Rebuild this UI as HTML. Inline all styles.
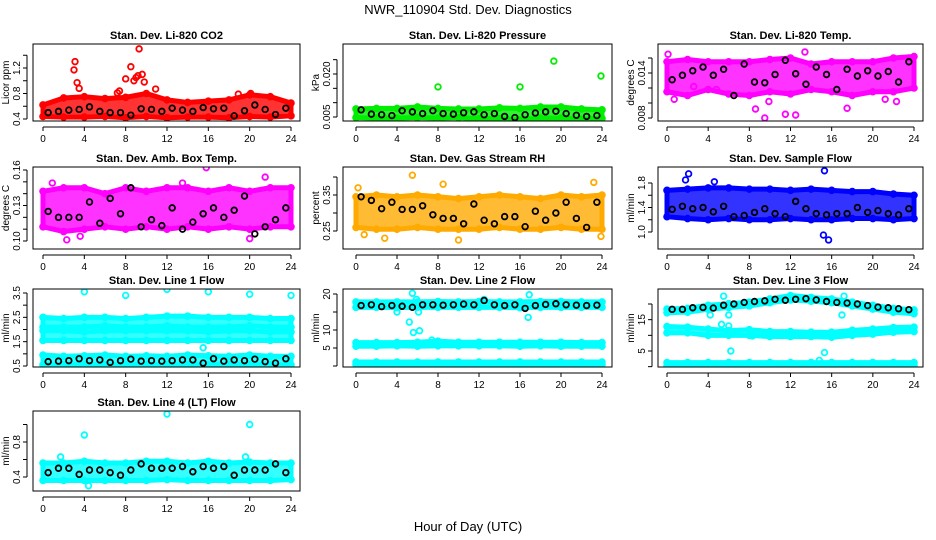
<!DOCTYPE html>
<html><head><meta charset="utf-8"><style>
body{margin:0;background:#fff}
svg{display:block;font-family:"Liberation Sans",sans-serif}
</style></head><body>
<svg id="c" width="936" height="540" viewBox="0 0 936 540">
<text x="468" y="14" text-anchor="middle" font-size="13">NWR_110904  Std. Dev. Diagnostics</text>
<text x="468" y="531" text-anchor="middle" font-size="13">Hour of Day (UTC)</text>
</svg>
<script>
const bandHours=[0,2,4,6,8,10,12,14,16,18,20,22,24];
const blackHours=[0.5,1.5,2.5,3.5,4.5,5.5,6.5,7.5,8.5,9.5,10.5,11.5,12.5,13.5,14.5,15.5,16.5,17.5,18.5,19.5,20.5,21.5,22.5,23.5];
const xTicks=[0,4,8,12,16,20,24];

const co2Lo=[0.44,0.43,0.43,0.44,0.42,0.44,0.42,0.43,0.43,0.42,0.44,0.43,0.45];
const co2Hi=[0.62,0.73,0.75,0.72,0.74,0.8,0.7,0.66,0.68,0.7,0.78,0.75,0.65];
const co2Black=[0.5,0.52,0.54,0.55,0.59,0.52,0.5,0.5,0.46,0.56,0.55,0.52,0.57,0.54,0.52,0.58,0.56,0.57,0.45,0.53,0.62,0.55,0.47,0.57];
const co2Out=[[3.0,1.17],[3.1,1.3],[3.3,0.97],[3.5,0.88],[7.2,0.81],[7.4,0.84],[8.0,1.03],[8.5,1.22],[8.8,1.0],[9.0,1.05],[9.2,1.08],[9.3,1.5],[9.6,1.1],[9.8,0.98],[10.9,0.87],[20.1,0.8],[18.9,0.79]];

const presLo=[0.0048,0.0046,0.0046,0.0048,0.0046,0.0048,0.0044,0.0044,0.0040,0.0046,0.0046,0.0042,0.0045];
const presHi=[0.0078,0.008,0.008,0.0085,0.008,0.0078,0.0078,0.0082,0.008,0.0085,0.0085,0.0078,0.0075];
const presBlack=[0.0075,0.006,0.0058,0.0055,0.0072,0.0068,0.0062,0.0072,0.0062,0.006,0.0065,0.0068,0.0058,0.0062,0.0052,0.0048,0.0058,0.0064,0.0068,0.007,0.0062,0.0056,0.0052,0.0055];
const presOut=[[8,0.0155],[16,0.0155],[19.3,0.0245],[23.9,0.0193]];

const tempLo=[0.0115,0.011,0.0118,0.0112,0.011,0.0115,0.0112,0.0118,0.0115,0.011,0.0115,0.0115,0.012];
const tempHi=[0.0155,0.0158,0.0155,0.0155,0.0155,0.0158,0.016,0.0152,0.0155,0.0155,0.0155,0.016,0.0162];
const tempBlack=[0.0131,0.0137,0.0143,0.0148,0.0137,0.0145,0.011,0.0152,0.0128,0.0127,0.0138,0.0157,0.0139,0.0125,0.0148,0.0138,0.0118,0.0145,0.0136,0.0143,0.0136,0.0142,0.0128,0.0155];
const tempOut=[[0.1,0.0165],[0.7,0.0105],[2.6,0.0122],[4.8,0.0118],[8.6,0.0092],[9.5,0.008],[9.9,0.0102],[11.5,0.0085],[12.5,0.0084],[13.4,0.0168],[17.5,0.0093],[21.2,0.0105],[22.3,0.0102],[23.5,0.016]];

const ambLo=[0.112,0.108,0.11,0.112,0.11,0.112,0.11,0.112,0.11,0.112,0.11,0.112,0.112];
const ambHi=[0.142,0.145,0.145,0.14,0.145,0.142,0.145,0.145,0.142,0.145,0.142,0.145,0.145];
const ambBlack=[0.125,0.12,0.12,0.12,0.133,0.115,0.136,0.123,0.145,0.112,0.118,0.113,0.128,0.11,0.116,0.123,0.128,0.12,0.126,0.138,0.106,0.112,0.118,0.128];
const ambOut=[[2.3,0.101],[15.8,0.162],[21.5,0.154],[13.5,0.149],[0.9,0.149],[20,0.102],[3.6,0.104]];

const rhLo=[0.26,0.255,0.255,0.26,0.255,0.255,0.255,0.26,0.255,0.255,0.26,0.255,0.255];
const rhHi=[0.345,0.35,0.345,0.35,0.345,0.34,0.345,0.35,0.345,0.34,0.35,0.345,0.35];
const rhBlack=[0.345,0.335,0.312,0.33,0.31,0.31,0.32,0.295,0.285,0.285,0.27,0.325,0.28,0.27,0.29,0.29,0.262,0.305,0.28,0.3,0.33,0.285,0.26,0.33];
const rhOut=[[5.5,0.405],[2.8,0.23],[10,0.225],[23.2,0.385],[0.2,0.37],[8.5,0.38],[0.8,0.24],[23.9,0.235]];

const flowLo=[1.25,1.22,1.2,1.22,1.2,1.2,1.22,1.2,1.2,1.22,1.22,1.2,1.22];
const flowHi=[1.68,1.7,1.72,1.72,1.7,1.7,1.68,1.7,1.68,1.66,1.66,1.62,1.6];
const flowBlack=[1.37,1.42,1.38,1.4,1.33,1.42,1.25,1.27,1.32,1.38,1.3,1.25,1.5,1.38,1.3,1.28,1.3,1.3,1.4,1.32,1.35,1.3,1.28,1.38];
const flowOut=[[2.1,1.95],[15.3,2.0],[15.2,0.95],[15.7,0.87],[1.8,1.85],[4.6,1.82]];

const l1Lo=[[0.55,0.55,0.55,0.55,0.55,0.55,0.55,0.55,0.55,0.55,0.55,0.55,0.55],[1.55,1.55,1.55,1.55,1.55,1.55,1.55,1.55,1.55,1.55,1.55,1.55,1.55],[2.1,2.1,2.1,2.15,2.1,2.1,2.15,2.1,2.1,2.1,2.15,2.1,2.1]];
const l1Hi=[[0.95,0.9,0.92,0.95,0.9,0.92,0.9,0.95,0.92,0.9,0.95,0.9,0.9],[1.95,1.95,1.9,1.95,1.95,1.95,1.95,1.95,1.9,1.95,1.95,1.9,1.9],[2.5,2.45,2.5,2.5,2.45,2.5,2.55,2.55,2.5,2.5,2.5,2.45,2.45]];
const l1Black=[0.68,0.7,0.72,0.8,0.72,0.75,0.65,0.72,0.78,0.7,0.72,0.7,0.72,0.75,0.75,0.62,0.8,0.7,0.75,0.72,0.78,0.68,0.62,0.8];
const l1Out=[[4,3.55],[8,3.4],[12,3.65],[16,3.55],[20,3.45],[24,3.4],[15.5,1.25]];

const l2Lo=[[16.3,16.3,16.2,16.3,16.3,16.3,16.3,16.3,16.2,16.3,16.3,16.3,16.3],[5.5,5.5,5.6,5.5,5.6,5.6,5.6,5.6,5.5,5.6,5.5,5.5,5.5],[0.4,0.4,0.4,0.4,0.4,0.4,0.4,0.4,0.4,0.4,0.4,0.4,0.4]];
const l2Hi=[[17.8,17.8,17.8,17.8,17.9,17.8,17.9,17.8,17.8,17.9,17.9,17.8,17.8],[6.5,6.5,6.5,6.6,6.9,6.6,6.6,6.6,6.6,6.6,6.6,6.5,6.5],[1.1,1.1,1.1,1.1,1.1,1.1,1.1,1.1,1.1,1.1,1.1,1.1,1.1]];
const l2Black=[16.8,17,16.5,16.8,16.6,16.3,17,17,16.9,17,17.2,17,18.2,17,16.8,17,16,16.8,17.1,17.3,17,16.9,16.8,16.9];
const l2Out=[[5.2,12.2],[5.6,9.3],[6.2,9.8],[5.5,20.2],[5.9,18.5],[4,15],[16.8,13.5],[16.9,19.8],[6.1,15],[12.5,18.5],[7.4,7.2],[6.2,6.2]];

const l3Lo=[[17.2,17.4,18.3,18.9,19.4,20.4,21.3,20.9,20.4,19.4,18.4,17.4,16.9],[10.8,10.8,10,10,10,9.6,9.6,9.6,9.4,10,10.4,11,11.2],[0.3,0.3,0.3,0.3,0.3,0.3,0.3,0.3,0.3,0.3,0.3,0.3,0.3]];
const l3Hi=[[18.4,18.6,19.6,20.1,20.6,21.6,22.7,22.1,21.6,20.6,19.6,18.6,18.1],[12.8,12.6,12,11.5,11.8,11.2,11.2,11,11,11.6,12,12.5,12.6],[1.3,1.3,1.3,1.3,1.3,1.3,1.3,1.3,1.3,1.3,1.3,1.3,1.3]];
const l3Black=[18.3,18.3,18.8,18.9,18.7,19.6,20,20.5,20.8,21,21.5,21.2,21.5,21.7,21.3,20.8,20.5,20.3,20,19.5,19,18.8,18.5,18.2];
const l3Out=[[5.5,22.5],[5.3,13.5],[6,13],[4.2,16.5],[6,16.5],[14.8,2],[15.3,4.5],[17,16.5],[17.2,22.5],[8.3,9.8],[6.2,5]];

const l4Lo=[0.36,0.36,0.36,0.36,0.36,0.36,0.37,0.36,0.36,0.36,0.36,0.36,0.37];
const l4Hi=[0.56,0.56,0.58,0.56,0.56,0.58,0.58,0.56,0.58,0.56,0.57,0.56,0.56];
const l4Black=[0.45,0.5,0.5,0.43,0.48,0.48,0.45,0.42,0.48,0.55,0.5,0.5,0.5,0.52,0.46,0.52,0.5,0.52,0.42,0.48,0.48,0.48,0.55,0.45];
const l4Out=[[4,0.88],[12,1.12],[20,1.0],[1.7,0.63],[19.6,0.63],[4.4,0.3]];

const svg=document.getElementById('c');
const NS='http://www.w3.org/2000/svg';
function el(tag,attrs,parent){const e=document.createElementNS(NS,tag);for(const k in attrs)e.setAttribute(k,attrs[k]);(parent||svg).appendChild(e);return e;}

const cols=[{bx:33,bw:267,x0:43,x24:291},{bx:343,bw:269,x0:356,x24:602},{bx:658,bw:265,x0:667,x24:914}];
const rows=[{by:44,bh:77},{by:167,bh:82},{by:289,bh:78},{by:411,bh:80}];

const panels=[
 {name:'co2',title:'Stan. Dev. Li-820 CO2',yl:'Licor ppm',c:0,r:0,v1:0.4,p1:119,v2:1.2,p2:68,ticks:[0.4,0.6,0.8,1.0,1.2,1.4],labels:['0.4','0.8','1.2'],col:'#ff0000',lo:[co2Lo],hi:[co2Hi],blk:co2Black,out:co2Out},
 {name:'pressure',title:'Stan. Dev. Li-820 Pressure',yl:'kPa',c:1,r:0,v1:0.005,p1:117,v2:0.02,p2:74,ticks:[0.005,0.01,0.015,0.02,0.025],labels:['0.005','0.020'],col:'#00ee00',lo:[presLo],hi:[presHi],blk:presBlack,out:presOut},
 {name:'temp',title:'Stan. Dev. Li-820 Temp.',yl:'degrees C',c:2,r:0,v1:0.008,p1:118,v2:0.014,p2:73,ticks:[0.008,0.01,0.012,0.014,0.016],labels:['0.008','0.014'],col:'#ff00ff',lo:[tempLo],hi:[tempHi],blk:tempBlack,out:tempOut},
 {name:'amb-box-temp',title:'Stan. Dev. Amb. Box Temp.',yl:'degrees C',c:0,r:1,v1:0.10,p1:241,v2:0.16,p2:170,ticks:[0.1,0.11,0.12,0.13,0.14,0.15,0.16],labels:['0.10','0.13','0.16'],col:'#ff00ff',lo:[ambLo],hi:[ambHi],blk:ambBlack,out:ambOut},
 {name:'gas-stream-rh',title:'Stan. Dev. Gas Stream RH',yl:'percent',c:1,r:1,v1:0.25,p1:231,v2:0.35,p2:195,ticks:[0.25,0.3,0.35,0.4],labels:['0.25','0.35'],col:'#ffaa00',lo:[rhLo],hi:[rhHi],blk:rhBlack,out:rhOut},
 {name:'sample-flow',title:'Stan. Dev. Sample Flow',yl:'ml/min',c:2,r:1,v1:1.0,p1:232,v2:1.8,p2:183,ticks:[1.0,1.2,1.4,1.6,1.8],labels:['1.0','1.4','1.8'],col:'#0000ff',lo:[flowLo],hi:[flowHi],blk:flowBlack,out:flowOut},
 {name:'line1-flow',title:'Stan. Dev. Line 1 Flow',yl:'ml/min',c:0,r:2,v1:0.5,p1:366,v2:3.5,p2:293,ticks:[0.5,1,1.5,2,2.5,3,3.5],labels:['0.5','1.5','2.5','3.5'],col:'#00ffff',lo:l1Lo,hi:l1Hi,blk:l1Black,out:l1Out},
 {name:'line2-flow',title:'Stan. Dev. Line 2 Flow',yl:'ml/min',c:1,r:2,v1:5,p1:348,v2:20,p2:294,ticks:[0,5,10,15,20],labels:['5','10','20'],lv:[5,10,20],col:'#00ffff',lo:l2Lo,hi:l2Hi,blk:l2Black,out:l2Out},
 {name:'line3-flow',title:'Stan. Dev. Line 3 Flow',yl:'ml/min',c:2,r:2,v1:5,p1:351,v2:20,p2:304,ticks:[0,5,10,15,20],labels:['5','15'],lv:[5,15],col:'#00ffff',lo:l3Lo,hi:l3Hi,blk:l3Black,out:l3Out},
 {name:'line4-flow',title:'Stan. Dev. Line 4 (LT) Flow',yl:'ml/min',c:0,r:3,v1:0.4,p1:477,v2:0.8,p2:442,ticks:[0.4,0.6,0.8,1.0],labels:['0.4','0.8'],col:'#00ffff',lo:[l4Lo],hi:[l4Hi],blk:l4Black,out:l4Out}
];

panels.forEach(p=>{
 const C=cols[p.c],R=rows[p.r];
 const g=el('g',{});
 
 
 const xs=h=>C.x0+(C.x24-C.x0)*h/24;
 const ys=v=>p.p1+(p.p2-p.p1)*(v-p.v1)/(p.v2-p.v1);
 const clip='clip-'+p.name;
 const cp=el('clipPath',{id:clip},g);el('rect',{x:C.bx,y:R.by,width:C.bw,height:R.bh},cp);
 const data=el('g',{'clip-path':'url(#'+clip+')'},g);
 for(let b=0;b<p.lo.length;b++){
  let pts=bandHours.map((h,i)=>xs(h)+','+ys(p.hi[b][i]));
  pts=pts.concat(bandHours.slice().reverse().map((h,k)=>{const i=bandHours.length-1-k;return xs(h)+','+ys(p.lo[b][i]);}));
  const poly=el('polygon',{points:pts.join(' '),fill:p.col,'fill-opacity':0.8,stroke:p.col,'stroke-width':5,'stroke-linejoin':'round'},data);
  
  
  bandHours.forEach((h,i)=>{
   [p.lo[b][i],p.hi[b][i]].forEach(v=>{
    const ci=el('circle',{cx:xs(h),cy:ys(v),r:3,fill:'none',stroke:p.col,'stroke-width':1.6},data);
    
    
   });
  });
 }
 p.out.forEach(o=>{
  const ci=el('circle',{cx:xs(o[0]),cy:ys(o[1]),r:2.8,fill:'none',stroke:p.col,'stroke-width':1.8},data);
  
  
 });
 p.blk.forEach((v,i)=>{
  const ci=el('circle',{cx:xs(blackHours[i]),cy:ys(v),r:2.8,fill:'none',stroke:'#000','stroke-width':1.8},data);
  
  
 });
 const box=el('rect',{x:C.bx,y:R.by,width:C.bw,height:R.bh,fill:'none',stroke:'#000','stroke-width':1},g);
 
 
 const t=el('text',{x:(C.bx+C.bw/2),y:R.by-5,'text-anchor':'middle','font-size':11,'font-weight':'bold'},g);
 t.textContent=p.title;
 
 
 const xb=R.by+R.bh;
 el('line',{x1:xs(0),x2:xs(24),y1:xb+6,y2:xb+6,stroke:'#000'},g);
 xTicks.forEach(h=>{
  el('line',{x1:xs(h),x2:xs(h),y1:xb+6,y2:xb+10,stroke:'#000'},g);
  const tx=el('text',{x:xs(h),y:xb+21,'text-anchor':'middle','font-size':10},g);
  tx.textContent=h;
  
  
 });
 const ax=C.bx-6;
 el('line',{x1:ax,x2:ax,y1:ys(p.ticks[0]),y2:ys(p.ticks[p.ticks.length-1]),stroke:'#000'},g);
 p.ticks.forEach(v=>el('line',{x1:ax-4,x2:ax,y1:ys(v),y2:ys(v),stroke:'#000'},g));
 p.labels.forEach((l,i)=>{
  const v=p.lv?p.lv[i]:parseFloat(l);
  const ty=el('text',{x:0,y:0,'text-anchor':'middle','font-size':10,transform:'translate('+(ax-7)+','+ys(v)+') rotate(-90)'},g);
  ty.textContent=l;
  
  
 });
 const yt=el('text',{x:0,y:0,'text-anchor':'middle','font-size':10,transform:'translate('+(C.bx-24)+','+(R.by+R.bh/2)+') rotate(-90)'},g);
 yt.textContent=p.yl;
 
 
});
</script>
</body></html>
